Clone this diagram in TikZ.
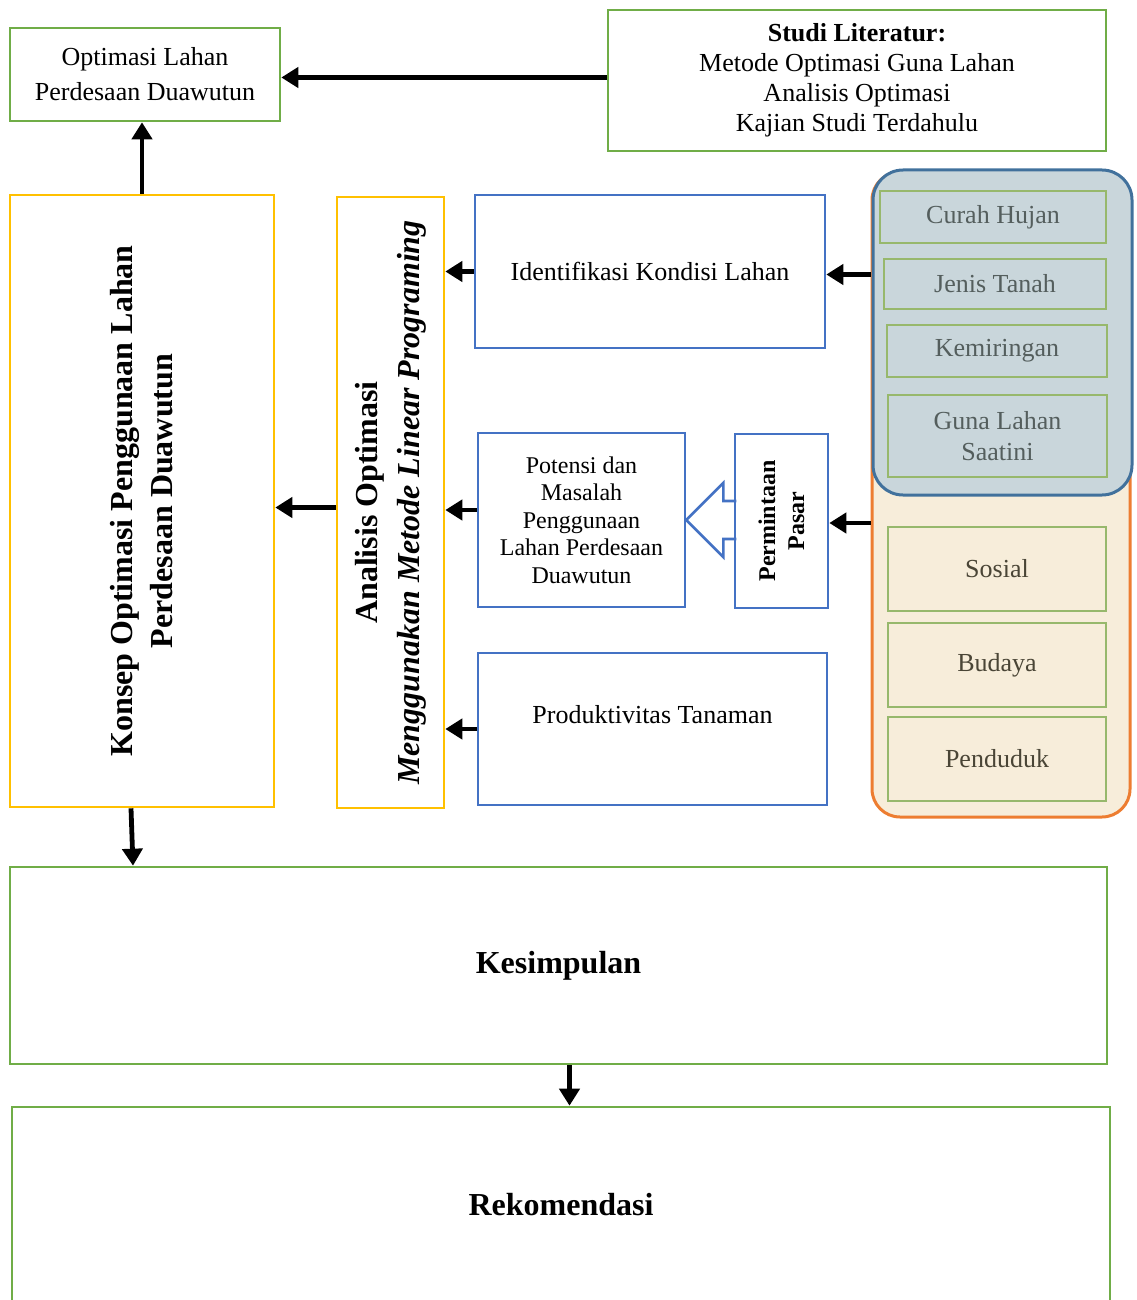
\documentclass[tikz,border=0pt]{standalone}
\usepackage{fontspec}
\setmainfont{Liberation Serif}
\usepackage{xcolor}
\usepackage{tikz}
\usetikzlibrary{arrows.meta,positioning}

\definecolor{hijau}{HTML}{70AD47}
\definecolor{hijaumuda}{HTML}{97B86C}
\definecolor{kuning}{HTML}{FFC000}
\definecolor{biru}{HTML}{4472C4}
\definecolor{oranye}{HTML}{ED7D31}
\definecolor{biruabu}{HTML}{C9D6DB}
\definecolor{birugaris}{HTML}{41719C}
\definecolor{krem}{HTML}{F7EDDA}
\definecolor{teksabu}{HTML}{545E5D}
\definecolor{tekskrem}{HTML}{4A4536}

\begin{document}
\begin{tikzpicture}[
  x=0.5pt, y=-0.5pt,
  box/.style={draw, line width=1.3pt, inner sep=0pt, align=center,
              font=\fontsize{13}{15}\selectfont},
  gbox/.style={box, draw=hijau},
  ybox/.style={box, draw=kuning},
  bbox/.style={box, draw=biru},
  pbox/.style={box, draw=hijaumuda, line width=1.3pt},
  vlabel/.style={rotate=90, align=center, font=\bfseries\fontsize{16}{20}\selectfont},
  arrow/.style={-{Triangle[length=8.5pt,width=10pt]}, line width=2.4pt},
]
\useasboundingbox (0,0) rectangle (1136,1300);

% === Top row ===
\node[gbox, minimum width=135pt, minimum height=46.5pt,
      font=\fontsize{13}{17.5}\selectfont] (optimasi) at (145,74.5)
  {Optimasi Lahan\\Perdesaan Duawutun};

\node[gbox, minimum width=249pt, minimum height=70.5pt] (studi) at (857,80.5)
  {\textbf{Studi Literatur:}\\
   Metode Optimasi Guna Lahan\\
   Analisis Optimasi\\
   Kajian Studi Terdahulu};

\draw[arrow] ([yshift=1.5pt]studi.west) -- ([yshift=1.5pt]studi.west -| optimasi.east);

% === Left columns ===
\node[ybox, minimum width=132pt, minimum height=306pt] (konsep) at (142,501) {};
\node[vlabel] (konseplbl) at (konsep.center)
  {Konsep Optimasi Penggunaan Lahan\\Perdesaan Duawutun};

\node[ybox, minimum width=53.5pt, minimum height=305.5pt] (analisis) at (390.5,502.5) {};
\node[vlabel, font=\bfseries\fontsize{16}{21}\selectfont] (analisislbl) at (analisis.center)
  {Analisis Optimasi\\\textit{Menggunakan Metode Linear Programing}};

\draw[arrow] (konsep.north) -- (konsep.north |- optimasi.south);
\draw[arrow] ([yshift=-2.5pt]analisis.west) -- ([yshift=-2.5pt]analisis.west -| konsep.east);

% === Middle column ===
\node[bbox, minimum width=175pt, minimum height=76.5pt] (identifikasi) at (650,271.5)
  {Identifikasi Kondisi Lahan};

\node[bbox, minimum width=103.5pt, minimum height=87pt,
      font=\fontsize{12}{13.75}\selectfont] (potensi) at (581.5,520)
  {Potensi dan\\Masalah\\Penggunaan\\Lahan Perdesaan\\Duawutun};

\node[bbox, minimum width=46.5pt, minimum height=87pt] (permintaan) at (781.5,521) {};
\node[vlabel, font=\bfseries\fontsize{12}{14.5}\selectfont] (permintaanlbl)
  at (permintaan.center) {Permintaan\\Pasar};

\node[bbox, minimum width=174.5pt, minimum height=76pt] (produktivitas) at (652.5,729)
  {Produktivitas Tanaman\\\mbox{}};

% block arrow Permintaan -> Potensi
\draw[biru, line width=1.3pt] (potensi.east) ++(50,-19) -- ++(-13,0) -- ++(0,-18)
  -- (potensi.east) -- ++(37,37) -- ++(0,-18) -- ++(13,0);

\draw[arrow] (identifikasi.west) -- (identifikasi.west -| analisis.east);
\draw[arrow] ([yshift=5pt]potensi.west) -- ([yshift=5pt]potensi.west -| analisis.east);
\draw[arrow] (produktivitas.west) -- (produktivitas.west -| analisis.east);

% === Right panel ===
\node[draw=oranye, fill=krem, line width=1.5pt, rounded corners=14pt,
      minimum width=129pt, minimum height=322.5pt] (panel) at (1001,494.5) {};
\node[draw=birugaris, fill=biruabu, line width=1.5pt, rounded corners=15pt,
      minimum width=129.5pt, minimum height=162.5pt] (fisik) at (1002.5,332.5) {};

\node[pbox, text=teksabu, minimum width=113pt, minimum height=26pt] (curah) at (993,217) {Curah Hujan};
\node[pbox, text=teksabu, minimum width=111pt, minimum height=25pt] (jenis) at (995,284) {Jenis Tanah};
\node[pbox, text=teksabu, minimum width=110pt, minimum height=26pt] (miring) at (997,351) {Kemiringan};
\node[pbox, text=teksabu, minimum width=109.5pt, minimum height=41pt,
      font=\fontsize{13}{15.5}\selectfont] (gunalahan) at (997.5,436) {Guna Lahan\\Saatini};

\node[pbox, text=tekskrem, minimum width=109pt, minimum height=42pt] (sosial) at (997,569) {Sosial};
\node[pbox, text=tekskrem, minimum width=109pt, minimum height=42pt] (budaya) at (997,665) {Budaya};
\node[pbox, text=tekskrem, minimum width=109pt, minimum height=42pt] (penduduk) at (997,759) {Penduduk};

\draw[arrow] ([yshift=-1.5pt]panel.west |- identifikasi.east) -- ([yshift=-1.5pt]identifikasi.east);
\draw[arrow] ([yshift=-1pt]panel.west |- permintaan.east) -- ([yshift=-1pt]permintaan.east);

% === Bottom ===
\node[gbox, minimum width=548.5pt, minimum height=98.5pt,
      font=\bfseries\fontsize{16}{19}\selectfont] (kesimpulan) at (558.5,965.5) {Kesimpulan};
\node[gbox, minimum width=549pt, minimum height=98pt,
      font=\bfseries\fontsize{16}{19}\selectfont] (rekomendasi) at (561,1205) {Rekomendasi};

\draw[arrow] ([xshift=-5.5pt]konsep.south) -- ([xshift=-4.5pt]konsep.south |- kesimpulan.north);
\draw[arrow] ([xshift=5.5pt]kesimpulan.south) -- ([xshift=5.5pt]kesimpulan.south |- rekomendasi.north);

\end{tikzpicture}
\end{document}
